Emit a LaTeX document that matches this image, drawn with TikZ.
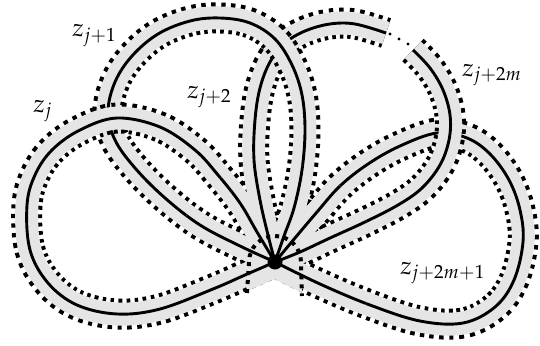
\documentclass[tikz,border=0pt]{standalone}
\usepackage{mathpazo}
\definecolor{bandgray}{gray}{0.9}
\begin{document}
\begin{tikzpicture}[x=1pt,y=-1pt,
  dotb/.style={line width=31pt, dash pattern=on 4pt off 5pt, draw=black},
  grayb/.style={line width=23pt, draw=bandgray},
  grayfull/.style={line width=31pt, draw=bandgray},
  core/.style={line width=2.9pt, draw=black},
  tomb/.style={line width=4pt, dash pattern=on 4pt off 5pt, draw=black},
  lab/.style={inner sep=0pt, font=\fontsize{25}{30}\selectfont}]
\useasboundingbox (0,0) rectangle (540,345);
\def\Pa{plot[smooth,tension=0.6] coordinates {(275,262) (257,232) (240,203) (218,175) (195,150) (160,127) (117,118) (80,130) (52,150) (35,175) (27,205) (30,250) (48,283) (77,305) (117,314) (160,309) (213,289) (245,275) (275,262)}}
\def\Pb{plot[smooth,tension=0.6] coordinates {(275,262) (240,246) (200,225) (165,198) (135,168) (115,140) (108,112) (115,82) (132,56) (158,34) (190,21) (220,18) (250,23) (275,39) (292,65) (302,95) (305,130) (302,170) (294,208) (284,236) (275,262)}}
\def\Pc{plot[smooth,tension=0.6] coordinates {(275,262) (268,235) (260,200) (254,160) (255,120) (260,88) (270,62) (285,43) (305,31) (330,24) (355,24) (386,33)}}
\def\Pd{plot[smooth,tension=0.6] coordinates {(413,50) (430,68) (443,90) (450,115) (449,140) (440,165) (422,188) (398,205) (365,222) (330,238) (300,252) (275,262)}}
\def\Pe{plot[smooth,tension=0.6] coordinates {(275,262) (295,238) (317,212) (340,186) (368,164) (400,146) (437,133) (467,138) (490,154) (509,180) (520,210) (523,242) (514,280) (495,307) (463,323) (420,321) (370,305) (320,284) (275,262)}}
% layered bands (bottom to top)
\draw[dotb] \Pe; \draw[grayb] \Pe; \draw[core] \Pe;
\draw[dotb] \Pc; \draw[grayb] \Pc; \draw[core] \Pc;
\draw[dotb] \Pd; \draw[grayb] \Pd; \draw[core] \Pd;
\draw[dotb] \Pb; \draw[grayb] \Pb; \draw[core] \Pb;
\draw[dotb] \Pa; \draw[grayb] \Pa; \draw[core] \Pa;
% union near the base point
\begin{scope}
  \clip (275,262) circle [radius=100pt];
  \draw[grayb] \Pa; \draw[grayb] \Pb; \draw[grayb] \Pc; \draw[grayb] \Pd; \draw[grayb] \Pe;
\end{scope}
\begin{scope}
  \clip (246,345) -- (247,295) -- (249,262) .. controls (249,247.6) and (260.6,236) .. (275,236)
        .. controls (289.4,236) and (301,247.6) .. (301,262) -- (302,297) -- (303,345) -- cycle;
  \draw[grayfull] \Pa; \draw[grayfull] \Pb; \draw[grayfull] \Pc; \draw[grayfull] \Pd; \draw[grayfull] \Pe;
\end{scope}
\draw[tomb] (247,293) -- (249,262) .. controls (249,247.6) and (260.6,236) .. (275,236)
        .. controls (289.4,236) and (301,247.6) .. (301,262) -- (302,296);
\begin{scope}
  \clip (275,262) circle [radius=100pt];
  \draw[core] \Pa; \draw[core] \Pb; \draw[core] \Pc; \draw[core] \Pd; \draw[core] \Pe;
\end{scope}
\fill (275,262) circle [radius=7.5pt];
\fill (390,34) circle [radius=1.6pt];
\fill (399,39) circle [radius=1.6pt];
\fill (408,44) circle [radius=1.6pt];
% labels
\node[lab, anchor=base west] (lzj) at (33,112) {$z_j$};
\node[lab, anchor=base west] (lzj1) at (72,37) {$z_{j+1}$};
\node[lab, anchor=base west] (lzj2) at (187,98) {$z_{j+2}$};
\node[lab, anchor=base west] (lzjm) at (462,76) {$z_{j+2m}$};
\node[lab, anchor=base west] (lzjm1) at (400,274) {$z_{j+2m+1}$};
\end{tikzpicture}
\end{document}
